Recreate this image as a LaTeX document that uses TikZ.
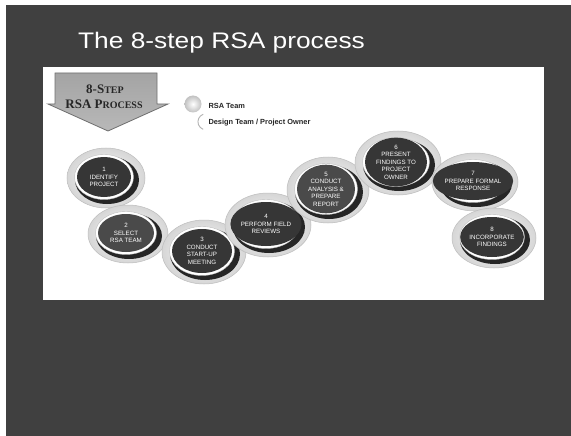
\documentclass[tikz,border=0pt]{standalone}
\usepackage{fontspec}
\setmainfont{Liberation Sans}
\newfontfamily\badgefont{Liberation Serif}
\usetikzlibrary{shapes.geometric}
\definecolor{slidebg}{HTML}{404040}
\definecolor{discfill}{HTML}{363636}
\definecolor{discalt}{HTML}{4A4A4A}
\definecolor{ringc}{HTML}{D6D6D6}
\definecolor{ringedge}{HTML}{BDBDBD}
\definecolor{crescentc}{HTML}{262626}
\definecolor{badgetop}{HTML}{A4A4A4}
\definecolor{badgebot}{HTML}{B8B8B8}
\definecolor{badgeedge}{HTML}{707070}
\tikzset{
  disc/.style={ellipse, draw=none, inner sep=0pt, text=white, align=center,
    font=\fontsize{6.2}{7.5}\selectfont},
  legendtext/.style={anchor=west, font=\bfseries\fontsize{7.4}{9}\selectfont, text=black!85},
  badgetext/.style={font=\badgefont\bfseries\fontsize{13}{14}\selectfont, text=black!85},
}
\newcommand{\rsastep}[7]{%
  \shadedraw[inner color=white, outer color=ringc, draw=ringedge, line width=0.5pt]
    (#2+2,#3+1) ellipse [x radius={(#4+12)*1pt}, y radius={(#5+10)*1pt}];
  \fill[crescentc] (#2+3,#3+3) ellipse [x radius={(#4+5)*1pt}, y radius={(#5+4)*1pt}];
  \filldraw[fill=white, draw=ringedge, line width=0.4pt]
    (#2,#3) ellipse [x radius={(#4+2.5)*1pt}, y radius={(#5+2.5)*1pt}];
  \node[disc, fill=#6, minimum width={2*#4*1pt}, minimum height={2*#5*1pt}] (#1) at (#2,#3) {#7};
}
\begin{document}
\begin{tikzpicture}[x=1pt,y=-1pt]
\useasboundingbox (0,0) rectangle (571,436);
\fill[white] (0,0) rectangle (571,436);
\fill[slidebg] (6,5) rectangle (571,436);
% title
\node[anchor=base west, text=white, font=\fontsize{22.5}{26}\selectfont, xscale=1.17, transform shape]
  (title) at (74,49) {The 8-step RSA process};
% white panel
\fill[white] (43,67) rectangle (544,300);
% badge
\shadedraw[top color=badgetop, bottom color=badgebot, draw=badgeedge, line width=0.8pt]
  (55,73) -- (157,73) -- (157,104) -- (168,104) -- (108,131) -- (48,104) -- (55,104) -- cycle;
\node[badgetext] (badgeA) at (105,89) {8-S{\fontsize{10}{10}\selectfont TEP}};
\node[badgetext] (badgeB) at (104,104) {RSA P{\fontsize{10}{10}\selectfont ROCESS}};
% legend
\node[circle, minimum size=17pt, inner sep=0pt, inner color=white, outer color=ringc!90!black] (legA) at (193,104) {};
\node[legendtext] (legAt) at (205,106) {RSA Team};
\node[circle, minimum size=16pt, inner sep=0pt, fill=white] (legB) at (206,122) {};
\draw[gray!60, line width=0.9pt] (legB.110) arc[start angle=110, end angle=250, radius=8pt];
\node[legendtext] (legBt) at (205,123) {Design Team / Project Owner};
% steps
\rsastep{s1}{104}{177}{27}{20}{discfill}{1\\IDENTIFY\\PROJECT}
\rsastep{s2}{126}{233}{28}{19}{discalt}{2\\SELECT\\RSA TEAM}
\rsastep{s3}{202}{251}{30}{22}{discfill}{3\\CONDUCT\\START-UP\\MEETING}
\rsastep{s4}{266}{224}{31}{22}{discfill}{4\\PERFORM FIELD\\REVIEWS}
\rsastep{s5}{326}{189}{29}{23}{discalt}{5\\CONDUCT\\ANALYSIS \&\\PREPARE\\REPORT}
\rsastep{s6}{396}{162}{31}{22}{discfill}{6\\PRESENT\\FINDINGS TO\\PROJECT\\OWNER}
\rsastep{s7}{473}{181}{31}{19}{discfill}{7\\PREPARE FORMAL\\RESPONSE}
\rsastep{s8}{492}{237}{30}{20}{discfill}{8\\INCORPORATE\\FINDINGS}
\end{tikzpicture}
\end{document}
